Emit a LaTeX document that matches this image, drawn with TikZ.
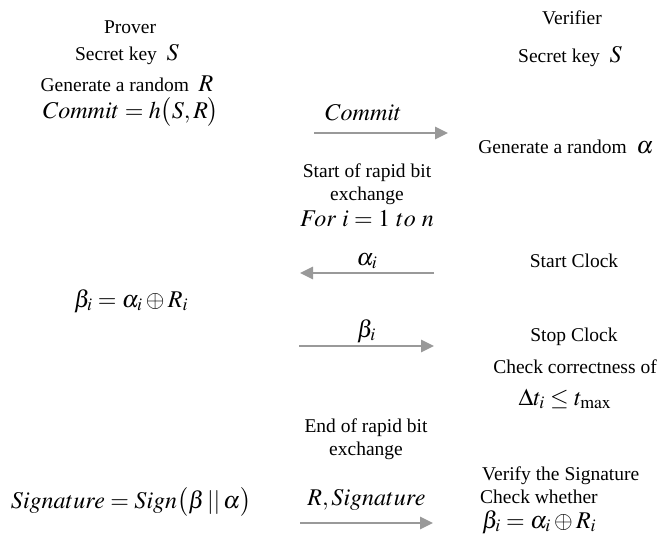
\documentclass[tikz,border=0pt]{standalone}
\usepackage{mathptmx}
\usepackage[no-math]{fontspec}
\setmainfont{Liberation Serif}
\usetikzlibrary{arrows.meta}

\newcommand{\bigmath}[1]{{\fontsize{24}{28}\selectfont$#1$}}

\begin{document}
\begin{tikzpicture}[
x=1pt, y=-1pt,
    txt/.style={anchor=base, inner sep=0pt, align=center, font=\fontsize{19.5}{23}\selectfont},
    msg/.style={draw=black!40, line width=2.6pt, -{Triangle[length=13pt, width=12pt]}},
    lbl/.style={txt, pos=0.5}
]
    \useasboundingbox (0,0) rectangle (660,541);

    % ================= PROVER =================
    \node[txt] (prover) at (130,33) {Prover};
    \node[txt] (pKey) at (127,60) {Secret key~ \bigmath{S}};
    \node[txt] (pRand) at (127,91) {Generate a random~ \bigmath{R}};
    \node[txt] (pCommit) at (131,118) {\bigmath{Commit = h\big(S, R\big)}};
    \node[txt] (pBeta) at (131,307) {\bigmath{\beta_i = \alpha_i \oplus R_i}};
    \node[txt] (pSign) at (131,508) {\bigmath{Signature = Sign\big(\beta\,||\,\alpha\big)}};

    % ================= VERIFIER =================
    \node[txt] (verifier) at (572,24) {Verifier};
    \node[txt] (vKey) at (570,62) {Secret key~ \bigmath{S}};
    \node[txt] (vRand) at (566,153) {Generate a random~ \bigmath{\alpha}};
    \node[txt] (vStart) at (574,267) {Start Clock};
    \node[txt] (vStop) at (574,341) {Stop Clock};
    \node[txt] (vCheck) at (575,373) {Check correctness of};
    \node[txt] (vDelta) at (565,405) {\bigmath{\Delta t_i \le t_{\max}}};
    \node[txt, anchor=base west] (vVerify) at (482,480) {Verify the Signature};
    \node[txt, anchor=base west] (vWhether) at (480,503) {Check whether};
    \node[txt, anchor=base west] (vBeta) at (482,528) {\bigmath{\beta_i = \alpha_i \oplus R_i}};

    % ================= RAPID BIT EXCHANGE =================
    \node[txt] (startEx) at (367,200) {Start of rapid bit\\exchange};
    \node[txt] (forLoop) at (367,226) {\bigmath{For\ i = 1\ to\ n}};
    \node[txt] (endEx) at (366,455) {End of rapid bit\\exchange};

    % ================= MESSAGES =================
    \coordinate (cS) at (314,133);
    \coordinate (cE) at (448,133);
    \draw[msg] (cS) -- node[lbl, pos=0.37, yshift=13pt] {\bigmath{Commit}} (cE);

    \coordinate (aS) at (434,273);
    \coordinate (aE) at (300,273);
    \draw[msg] (aS) -- node[lbl, yshift=8pt] {\bigmath{\alpha_i}} (aE);

    \coordinate (bS) at (299,346);
    \coordinate (bE) at (434,346);
    \draw[msg] (bS) -- node[lbl, yshift=9pt] {\bigmath{\beta_i}} (bE);

    \coordinate (sS) at (300,523);
    \coordinate (sE) at (433,523);
    \draw[msg] (sS) -- node[lbl, yshift=18pt] {\bigmath{R, Signature}} (sE);

\end{tikzpicture}
\end{document}
